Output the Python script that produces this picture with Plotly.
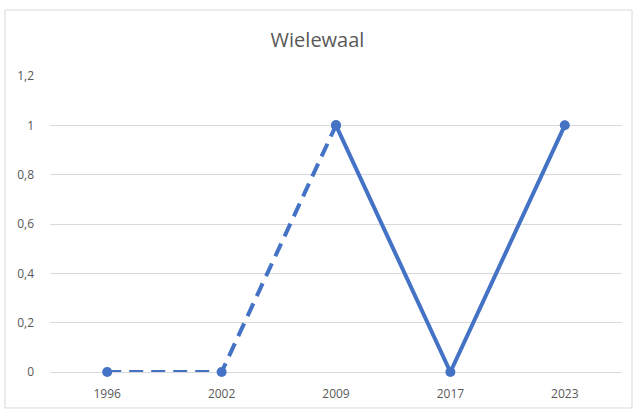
import plotly.graph_objects as go

# Gegevens uit de grafiek
jaren = ["1996", "2002", "2009", "2017", "2023"]
waarden = [0, 0, 1, 0, 1]
gestippeld_tot = 3  # eerste drie punten gestreept verbonden
y_ticks = [0, 0.2, 0.4, 0.6, 0.8, 1.0, 1.2]
y_tick_labels = ["0", "0,2", "0,4", "0,6", "0,8", "1", "1,2"]

kleur = "#4472C4"

fig = go.Figure()

# Gestreept deel
fig.add_trace(go.Scatter(
    x=jaren[:gestippeld_tot],
    y=waarden[:gestippeld_tot],
    mode="lines+markers",
    line=dict(color=kleur, width=4, dash="14px,8px"),
    marker=dict(color=kleur, size=10),
    cliponaxis=False,
    showlegend=False,
))

# Doorgetrokken deel
fig.add_trace(go.Scatter(
    x=jaren[gestippeld_tot - 1:],
    y=waarden[gestippeld_tot - 1:],
    mode="lines+markers",
    line=dict(color=kleur, width=4),
    marker=dict(color=kleur, size=10),
    cliponaxis=False,
    showlegend=False,
))

fig.update_layout(
    width=635,
    height=411,
    paper_bgcolor="white",
    plot_bgcolor="white",
    margin=dict(l=50, r=13, t=76, b=39),
    font=dict(family="Open Sans, Liberation Sans, sans-serif", color="#595959", size=12),
    title=dict(
        text="Wielewaal",
        x=0.5,
        xanchor="center",
        y=0.902,
        yanchor="middle",
        font=dict(size=20, color="#595959"),
    ),
    xaxis=dict(
        type="category",
        range=[-0.5, 4.5],
        automargin=False,
        showgrid=False,
        showline=False,
        zeroline=False,
        ticks="",
        ticklabelstandoff=13,
        tickfont=dict(size=12, color="#595959"),
    ),
    yaxis=dict(
        range=[0, 1.2],
        automargin=False,
        tickvals=y_ticks,
        ticktext=y_tick_labels,
        showgrid=True,
        gridcolor="#D9D9D9",
        gridwidth=1,
        zeroline=True,
        zerolinecolor="#D9D9D9",
        zerolinewidth=1,
        showline=False,
        ticks="",
        ticklabelstandoff=15,
        tickfont=dict(size=12, color="#595959"),
    ),
    shapes=[dict(
        type="rect",
        xref="paper", yref="paper",
        x0=-0.0787, x1=1.0175, y0=-0.1216, y1=1.223,
        line=dict(color="#D9D9D9", width=1),
        fillcolor="rgba(0,0,0,0)",
        layer="below",
    )],
)

fig.write_html(
    "out.html",
    config={"displayModeBar": False},
    post_script="document.body.style.margin='0';",
)
